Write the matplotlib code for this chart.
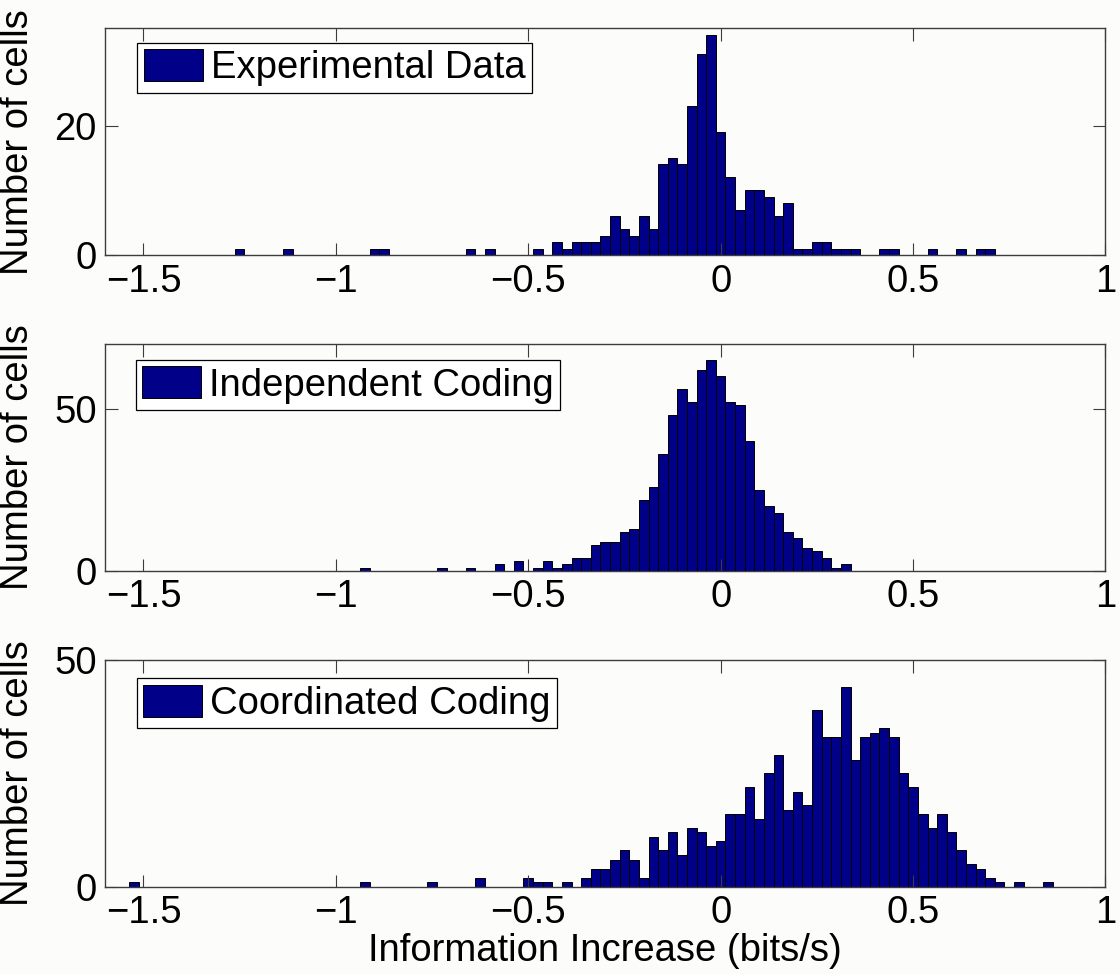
import matplotlib
matplotlib.use("Agg")
import matplotlib.pyplot as plt
from matplotlib.patches import Patch

# ---------------- data (bin centres, counts) ----------------
bin_width = 0.025

exp_centers = [-1.25, -1.125, -0.9, -0.875, -0.65, -0.6, -0.475, -0.425, -0.4,
               -0.375, -0.35, -0.325, -0.3, -0.275, -0.25, -0.225, -0.2, -0.175,
               -0.15, -0.125, -0.1, -0.075, -0.05, -0.025, 0.0, 0.025, 0.05,
               0.075, 0.1, 0.125, 0.15, 0.175, 0.2, 0.225, 0.25, 0.275, 0.3,
               0.325, 0.35, 0.425, 0.45, 0.55, 0.625, 0.675, 0.7]
exp_counts = [1, 1, 1, 1, 1, 1, 1, 2, 1,
              2, 2, 2, 3, 6, 4, 3, 6, 4,
              14, 15, 14, 23, 31, 34, 19, 12, 7,
              10, 10, 9, 6, 8, 1, 1, 2, 2, 1,
              1, 1, 1, 1, 1, 1, 1, 1]

ind_centers = [-0.925, -0.725, -0.65, -0.575, -0.525, -0.475, -0.45, -0.425,
               -0.4, -0.375, -0.35, -0.325, -0.3, -0.275, -0.25, -0.225, -0.2,
               -0.175, -0.15, -0.125, -0.1, -0.075, -0.05, -0.025, 0.0, 0.025,
               0.05, 0.075, 0.1, 0.125, 0.15, 0.175, 0.2, 0.225, 0.25, 0.275,
               0.3, 0.325]
ind_counts = [1, 1, 1, 2, 3, 1, 3, 1,
              2, 4, 4, 8, 9, 9, 12, 13, 22,
              26, 36, 48, 56, 52, 62, 65, 60, 52,
              51, 40, 25, 20, 18, 12, 10, 7, 6, 4,
              1, 2]

coord_centers = [-1.525, -0.925, -0.75, -0.625, -0.5, -0.475, -0.45, -0.4,
                 -0.35, -0.325, -0.3, -0.275, -0.25, -0.225, -0.2, -0.175,
                 -0.15, -0.125, -0.1, -0.075, -0.05, -0.025, 0.0, 0.025, 0.05,
                 0.075, 0.1, 0.125, 0.15, 0.175, 0.2, 0.225, 0.25, 0.275, 0.3,
                 0.325, 0.35, 0.375, 0.4, 0.425, 0.45, 0.475, 0.5, 0.525, 0.55,
                 0.575, 0.6, 0.625, 0.65, 0.675, 0.7, 0.725, 0.775, 0.85]
coord_counts = [1, 1, 1, 2, 2, 1, 1, 1,
                2, 4, 4, 6, 8, 6, 2, 11,
                8, 12, 7, 13, 12, 9, 10, 16, 16,
                22, 15, 25, 29, 17, 21, 18, 39, 33, 33,
                44, 28, 33, 34, 35, 33, 25, 22, 16, 13,
                16, 12, 8, 5, 4, 2, 1, 1, 1]

labels = ["Experimental Data", "Independent Coding", "Coordinated Coding"]
y_max = [35, 70, 50]
y_ticks = [[0, 20], [0, 50], [0, 50]]
x_ticks = [-1.5, -1, -0.5, 0, 0.5, 1]
x_ticklabels = ["\u22121.5", "\u22121", "\u22120.5", "0", "0.5", "1"]

# ---------------- style ----------------
plt.rcParams["font.family"] = ["Liberation Sans", "DejaVu Sans"]
plt.rcParams["font.size"] = 27.5
bar_color = "#000088"
bg = "#fcfcfa"
frame_color = "#3c3c3c"

fig = plt.figure(figsize=(11.2, 9.74), dpi=100, facecolor=bg)

# axes rectangles in figure fractions
rects = [
    [0.09375, 0.7379, 0.8933, 0.2331],
    [0.09375, 0.4138, 0.8933, 0.2334],
    [0.09375, 0.0896, 0.8933, 0.2327],
]
legend_anchor = [(0.0323, 0.937), (0.0307, 0.928), (0.0316, 0.919)]
series = [(exp_centers, exp_counts), (ind_centers, ind_counts),
          (coord_centers, coord_counts)]

for i, (centers, counts) in enumerate(series):
    ax = fig.add_axes(rects[i])
    ax.set_facecolor(bg)
    ax.bar(centers, counts, width=bin_width, color=bar_color,
           edgecolor="black", linewidth=0.7, align="center")
    ax.set_xlim(-1.6, 1.0)
    ax.set_ylim(0, y_max[i])
    ax.set_xticks(x_ticks)
    ax.set_xticklabels(x_ticklabels)
    ax.set_yticks(y_ticks[i])
    ax.tick_params(direction="in", length=9, width=0.8, top=True, right=True,
                   color=frame_color, labelcolor="black", pad=6)
    for sp in ax.spines.values():
        sp.set_color(frame_color)
        sp.set_linewidth(1.0)

    ax.set_ylabel("Number of cells")
    ax.yaxis.set_label_coords(-0.069, 0.5)

    handle = Patch(facecolor=bar_color, edgecolor="black", linewidth=0.7)
    leg = ax.legend([handle], [labels[i]], loc="upper left",
                    bbox_to_anchor=legend_anchor[i], borderaxespad=0,
                    fancybox=False, framealpha=1, edgecolor="black",
                    handlelength=1.55, handleheight=0.9, handletextpad=0.2,
                    borderpad=0.17, fontsize=27.5)
    leg.get_frame().set_linewidth(0.9)
    leg.get_frame().set_facecolor("white")

    if i == 2:
        ax.set_xlabel("Information Increase (bits/s)")
        ax.xaxis.set_label_coords(0.5, -0.205)

fig.savefig("out.png", dpi=100, facecolor=bg)
